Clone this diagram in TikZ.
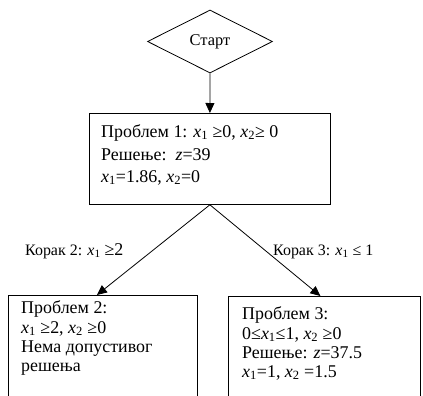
\documentclass[tikz,border=0pt]{standalone}
\usepackage{fontspec}
\setmainfont{Liberation Serif}
\usetikzlibrary{shapes.geometric,arrows.meta}
\newcommand{\xsub}[1]{\textit{x}\textsubscript{#1}}
\begin{document}
\begin{tikzpicture}[x=1bp,y=-1bp,
  frame/.style={draw, line width=0.8bp, inner sep=0, anchor=north west},
  line/.style={inner sep=0, anchor=base west, font=\fontsize{18}{21}\selectfont},
  lab/.style={inner sep=0, anchor=base west, font=\fontsize{16}{19}\selectfont},
  arr/.style={-{Triangle[length=10bp,width=9bp]}, line width=0.8bp}]
\useasboundingbox (0,0) rectangle (423,396);
\clip (0,0) rectangle (423,396);

\node[draw, shape=diamond, minimum width=125bp, minimum height=63bp, inner sep=0,
      line width=0.8bp, font=\fontsize{16.5}{19}\selectfont] (start) at (210,41.5) {Старт};

\node[frame, minimum width=241bp, minimum height=91bp] (b1) at (89,113) {};
\node[line] (t11) at (101,137) {Проблем 1: \xsub{1} ≥0, \xsub{2}≥ 0};
\node[line] (t12) at (101,160) {Решење:\ \ \textit{z}=39};
\node[line] (t13) at (101,182) {\xsub{1}=1.86, \xsub{2}=0};

\node[frame, minimum width=189bp, minimum height=200bp] (b2) at (8,295) {};
\node[line] (t21) at (21,313) {Проблем 2:};
\node[line] (t22) at (21,333) {\xsub{1} ≥2, \xsub{2} ≥0};
\node[line] (t23) at (21,352) {Нема допустивог};
\node[line] (t24) at (21,371) {решења};

\node[frame, minimum width=192bp, minimum height=200bp] (b3) at (228,296) {};
\node[line] (t31) at (242,319) {Проблем 3:};
\node[line] (t32) at (242,339) {0≤\xsub{1}≤1, \xsub{2} ≥0};
\node[line] (t33) at (242,358) {Решење: \textit{z}=37.5};
\node[line] (t34) at (242,377) {\xsub{1}=1, \xsub{2} =1.5};

\node[lab] (l2) at (25,255) {Корак 2: \xsub{1} {\fontsize{18}{21}\selectfont ≥2}};
\node[lab] (l3) at (273,255) {Корак 3: \xsub{1} ≤ 1};

\draw[arr] (start.south) -- (b1.north);
\draw[arr] (b1.south) -- ([xshift=-6bp]b2.north);
\draw[arr] (b1.south) -- ([xshift=-4bp]b3.north);
\end{tikzpicture}
\end{document}
